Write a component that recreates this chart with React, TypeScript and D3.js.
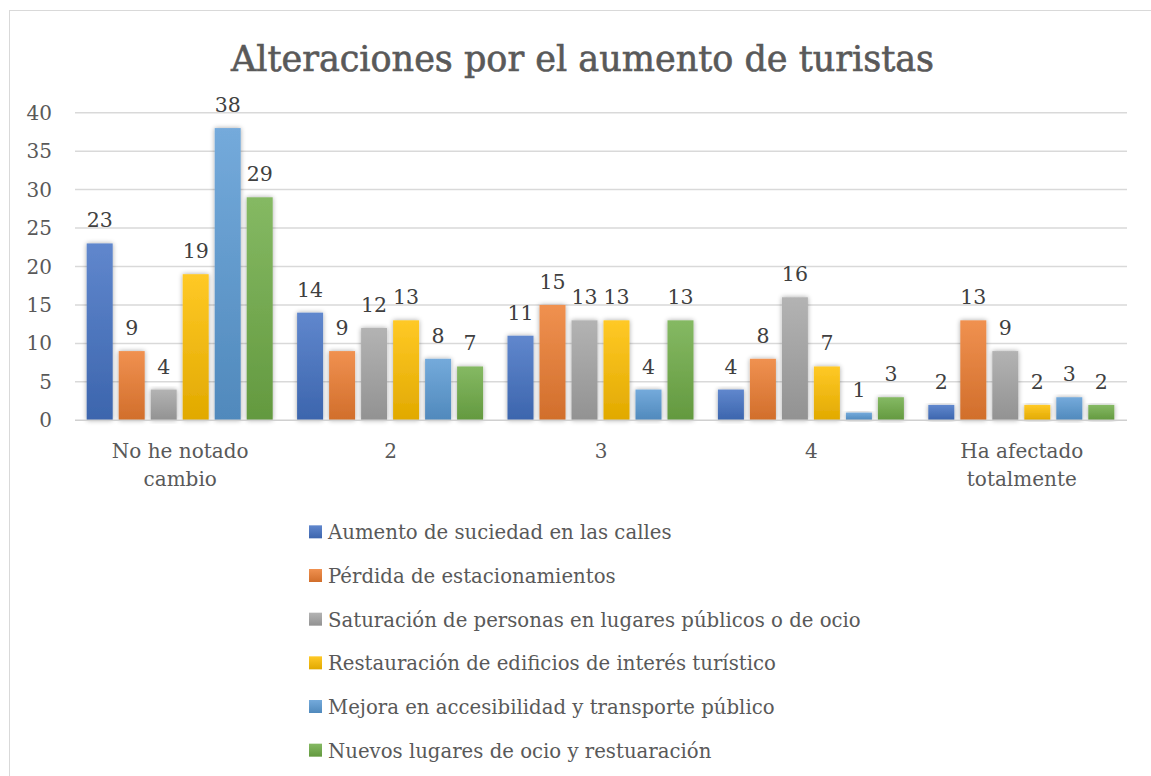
import React from "react";
import * as d3 from "d3";

const categories: string[][] = [["No he notado", "cambio"], ["2"], ["3"], ["4"], ["Ha afectado", "totalmente"]];
const seriesNames = [
  "Aumento de suciedad en las calles",
  "Pérdida de estacionamientos",
  "Saturación de personas en lugares públicos o de ocio",
  "Restauración de edificios de interés turístico",
  "Mejora en accesibilidad y transporte público",
  "Nuevos lugares de ocio y restuaración",
];
const aumento = [23, 14, 11, 4, 2];
const perdida = [9, 9, 15, 8, 13];
const saturacion = [4, 12, 13, 16, 9];
const restauracion = [19, 13, 13, 7, 2];
const mejora = [38, 8, 4, 1, 3];
const nuevos = [29, 7, 13, 3, 2];
const seriesValues = [aumento, perdida, saturacion, restauracion, mejora, nuevos];
const yTicks = [0, 5, 10, 15, 20, 25, 30, 35, 40];
const colors = ["#4472C4", "#ED7D31", "#A5A5A5", "#FFC000", "#5B9BD5", "#70AD47"];

const FONT = "'DejaVu Serif', serif";

export default function App() {
  const W = 1151, H = 776;
  const left = 75, right = 1127, top = 112.7, bottom = 420.3;
  const y = d3.scaleLinear().domain([0, 40]).range([bottom, top]);
  const x0 = d3.scaleBand<number>().domain(d3.range(categories.length)).range([left, right]);
  const x1 = d3.scaleBand<number>().domain(d3.range(seriesNames.length)).range([11.7, 11.7 + 186]).paddingInner(0.1875);
  const legendY = d3.scaleBand<number>().domain(d3.range(seriesNames.length)).range([510, 772]);

  return (
    <svg width={W} height={H} style={{ position: "absolute", left: 0, top: 0, background: "#fff" }}>
      <defs>
        {colors.map((c, i) => {
          const base = d3.color(c)!;
          return (
            <linearGradient key={i} id={`g${i}`} x1="0" y1="0" x2="0" y2="1">
              <stop offset="0%" stopColor={d3.interpolateRgb(c, "#ffffff")(0.15)} />
              <stop offset="100%" stopColor={base.darker(0.35).formatHex()} />
            </linearGradient>
          );
        })}
        <filter id="sh" x="-30%" y="-10%" width="160%" height="120%">
          <feGaussianBlur in="SourceAlpha" stdDeviation="2.5" />
          <feOffset dx="0" dy="0" result="b" />
          <feComponentTransfer><feFuncA type="linear" slope="0.35" /></feComponentTransfer>
          <feMerge><feMergeNode /><feMergeNode in="SourceGraphic" /></feMerge>
        </filter>
      </defs>
      <rect x={9.5} y={10.5} width={1160} height={800} fill="#fff" stroke="#d9d9d9" strokeWidth={1} />
      <text x={582.5} y={71} textAnchor="middle" fontFamily={FONT} fontSize={35} fill="#595959" stroke="#595959" strokeWidth={0.6}>
        Alteraciones por el aumento de turistas
      </text>
      {yTicks.map((t) => (
        <g key={t}>
          {t > 0 && <line x1={left} x2={right} y1={y(t)} y2={y(t)} stroke="#d9d9d9" strokeWidth={1.5} />}
          <text x={52} y={y(t) + 7} textAnchor="end" fontFamily={FONT} fontSize={20} fill="#595959">{t}</text>
        </g>
      ))}
      {seriesValues.map((vals, si) =>
        vals.map((v, ci) => {
          const bx = x0(ci)! + x1(si)!;
          return (
            <g key={`${si}-${ci}`}>
              <rect x={bx} y={y(v)} width={x1.bandwidth()} height={y(0) - y(v)} fill={`url(#g${si})`} filter="url(#sh)" />
              <text x={bx + x1.bandwidth() / 2} y={y(v) - 16} textAnchor="middle" fontFamily={FONT} fontSize={20.5} fill="#404040">{v}</text>
            </g>
          );
        })
      )}
      <line x1={left} x2={right} y1={bottom} y2={bottom} stroke="#d0d0d0" strokeWidth={1.5} />
      {categories.map((lines, ci) => (
        <text key={ci} textAnchor="middle" fontFamily={FONT} fontSize={20} fill="#595959">
          {lines.map((l, li) => (
            <tspan key={li} x={x0(ci)! + x0.bandwidth() / 2} y={458 + li * 28}>{l}</tspan>
          ))}
        </text>
      ))}
      {seriesNames.map((n, i) => {
        const cy = legendY(i)! + legendY.bandwidth() / 2;
        return (
          <g key={i}>
            <rect x={309} y={cy - 6.5} width={13} height={13} fill={`url(#g${i})`} />
            <text x={328} y={cy + 7.5} fontFamily={FONT} fontSize={19.7} fill="#595959">{n}</text>
          </g>
        );
      })}
    </svg>
  );
}
